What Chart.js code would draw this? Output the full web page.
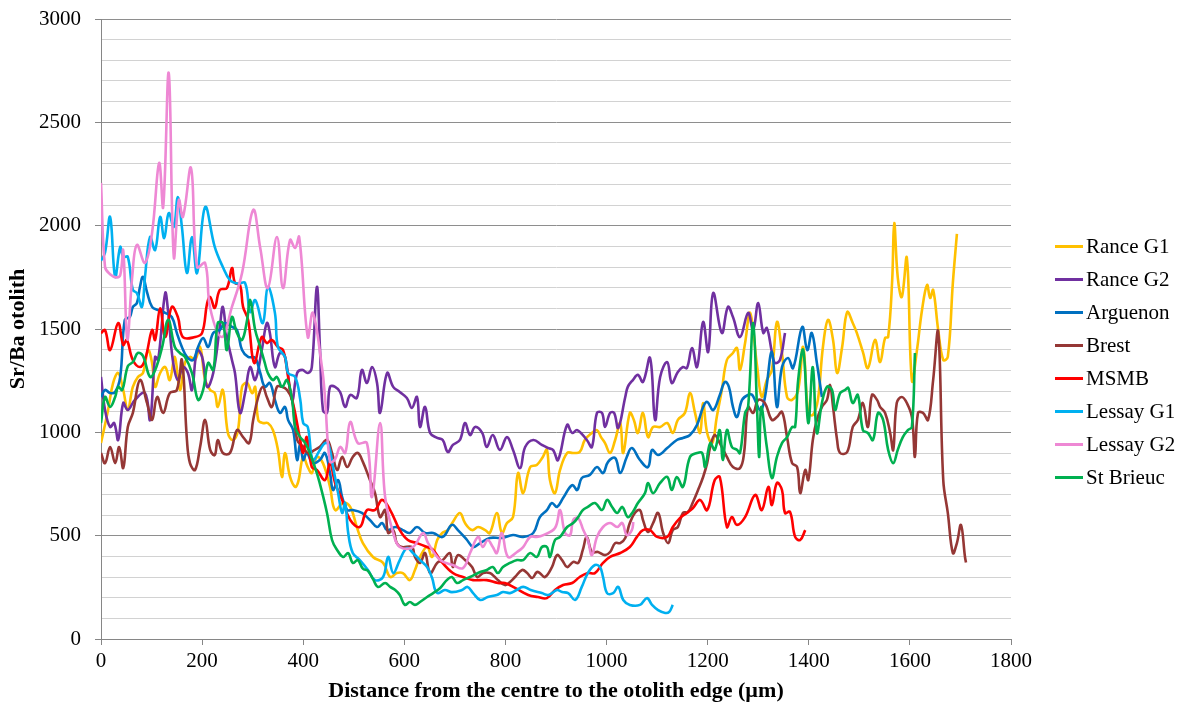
<!DOCTYPE html>
<html>
<head>
<meta charset="utf-8">
<script src="https://cdn.jsdelivr.net/npm/chart.js@4.4.1/dist/chart.umd.min.js"></script>
<style>
  html, body { margin: 0; padding: 0; background: #ffffff; }
  #wrap { position: relative; width: 1187px; height: 708px; }
  #legend { position: absolute; left: 1055px; top: 230px; font-family: "Liberation Serif", "Times New Roman", serif; font-size: 21px; color: #000; }
  .li { height: 33px; line-height: 33px; white-space: nowrap; display: flex; align-items: center; }
  .sw { width: 28px; height: 3px; margin-right: 3px; }
</style>
</head>
<body>
<div id="wrap">
  <canvas id="c" width="1187" height="708"></canvas>
  <div id="legend"></div>
</div>
<script>
// ---- Data (x = distance in µm, y = Sr/Ba) ----
const seriesNames = ["Rance G1", "Rance G2", "Arguenon", "Brest", "MSMB", "Lessay G1", "Lessay G2", "St Brieuc"];
const seriesColors = ["#FFC000", "#7030A0", "#0070C0", "#953735", "#FF0000", "#00B0F0", "#EE88D4", "#00B050"];
const xTickValues = [0, 200, 400, 600, 800, 1000, 1200, 1400, 1600, 1800];
const yMajorStep = 500;

const ranceG1 = [[0,948],[14,1108],[24,1239],[34,1287],[44,1205],[53,1108],[63,1220],[73,1268],[83,1287],[93,1398],[101,1336],[107,1220],[117,1287],[127,1316],[136,1253],[146,1365],[156,1205],[166,1336],[176,1365],[186,1350],[196,1413],[206,1253],[216,1205],[225,1190],[231,1123],[241,1205],[251,997],[261,963],[271,1011],[279,1220],[289,1239],[299,1190],[305,1220],[311,1060],[320,1045],[330,1045],[340,1011],[350,915],[358,784],[364,900],[374,784],[384,736],[390,760],[400,881],[409,832],[417,803],[427,881],[439,851],[453,736],[463,624],[479,658],[493,639],[506,542],[518,464],[538,397],[558,368],[572,300],[585,319],[597,319],[611,285],[621,334],[631,397],[645,445],[655,397],[665,479],[675,513],[686,527],[696,566],[710,610],[720,561],[734,527],[746,542],[760,527],[769,513],[783,610],[793,513],[803,561],[815,590],[825,803],[835,706],[849,832],[862,842],[874,881],[882,915],[888,769],[898,706],[908,818],[922,900],[934,900],[947,905],[957,963],[971,997],[981,1011],[989,977],[997,948],[1007,900],[1017,963],[1027,1045],[1033,900],[1046,1094],[1054,1060],[1062,997],[1072,1094],[1082,977],[1092,1026],[1106,1026],[1120,1045],[1131,997],[1141,1060],[1155,1094],[1165,1190],[1175,1094],[1185,997],[1191,1142],[1199,997],[1209,948],[1218,1074],[1228,1205],[1238,1350],[1250,1384],[1258,1408],[1264,1302],[1274,1432],[1284,1578],[1298,1316],[1307,1171],[1317,1253],[1327,1302],[1337,1534],[1347,1384],[1357,1171],[1367,1157],[1379,1205],[1389,1413],[1399,1094],[1408,1084],[1418,1157],[1428,1413],[1438,1544],[1448,1447],[1456,1287],[1466,1413],[1476,1582],[1487,1529],[1495,1481],[1507,1389],[1517,1311],[1531,1447],[1541,1340],[1551,1457],[1557,1461],[1565,1737],[1569,2013],[1576,1750],[1584,1655],[1594,1844],[1604,1250],[1614,1398],[1624,1592],[1634,1713],[1640,1650],[1646,1689],[1656,1495],[1666,1350],[1675,1365],[1685,1723],[1693,1960]];

const ranceG2 = [[0,1268],[8,1108],[18,1026],[26,1045],[34,963],[44,1142],[53,1108],[67,1157],[87,1190],[97,1060],[107,1365],[113,1350],[127,1674],[133,1578],[142,1350],[152,1253],[162,1316],[172,1287],[180,1205],[190,1398],[200,1365],[210,1220],[222,1287],[235,1510],[241,1607],[249,1461],[259,1350],[265,1287],[275,1094],[285,1190],[295,1316],[305,1253],[318,1398],[328,1529],[334,1481],[344,1316],[354,1384],[364,1365],[378,1157],[388,1287],[398,1302],[409,1287],[417,1316],[427,1703],[433,1413],[439,1108],[447,1094],[453,1220],[463,1220],[473,1195],[483,1123],[493,1181],[506,1166],[516,1302],[526,1239],[536,1316],[546,1239],[552,1094],[566,1287],[578,1220],[591,1195],[605,1166],[615,1118],[625,1171],[631,1026],[641,1123],[651,997],[665,973],[676,963],[686,905],[696,939],[710,963],[720,1045],[730,987],[740,1026],[754,997],[763,929],[775,987],[789,915],[803,977],[815,915],[829,827],[839,929],[855,963],[872,939],[884,924],[894,915],[904,866],[922,1036],[932,997],[942,1011],[961,963],[971,929],[981,1094],[991,1094],[997,1026],[1007,1094],[1015,1094],[1023,1021],[1037,1171],[1042,1220],[1052,1253],[1062,1278],[1072,1244],[1086,1360],[1096,1060],[1106,1268],[1120,1340],[1129,1239],[1141,1292],[1151,1316],[1159,1311],[1169,1408],[1179,1316],[1191,1534],[1201,1389],[1211,1674],[1228,1481],[1240,1607],[1250,1558],[1264,1461],[1280,1578],[1290,1495],[1300,1626],[1310,1481],[1317,1505],[1327,1389],[1333,1336],[1343,1350],[1353,1481]];

const arguenon = [[0,1171],[8,1205],[18,1190],[28,1195],[38,1268],[47,1544],[57,1558],[63,1607],[71,1626],[77,1703],[83,1752],[91,1679],[101,1607],[113,1592],[127,1578],[140,1558],[150,1481],[160,1413],[170,1365],[182,1350],[192,1413],[202,1456],[212,1413],[222,1481],[235,1495],[245,1529],[259,1510],[269,1495],[279,1398],[291,1365],[305,1360],[315,1287],[324,1220],[334,1239],[344,1157],[354,1094],[364,1123],[370,1060],[380,1011],[388,866],[394,948],[400,866],[407,900],[419,851],[433,866],[443,900],[453,803],[459,721],[469,769],[477,687],[487,624],[498,624],[516,610],[532,576],[546,542],[556,561],[566,527],[582,542],[597,527],[611,513],[625,542],[641,513],[657,513],[676,494],[694,552],[706,527],[724,479],[736,445],[750,464],[769,489],[793,489],[815,503],[835,494],[855,513],[868,590],[882,624],[892,658],[902,639],[914,682],[932,745],[942,721],[951,779],[967,794],[981,832],[993,803],[1003,857],[1017,876],[1027,803],[1040,881],[1050,924],[1066,866],[1082,832],[1090,915],[1102,890],[1120,924],[1139,963],[1151,973],[1165,987],[1179,1036],[1191,1123],[1199,1147],[1211,1108],[1224,1181],[1234,1244],[1242,1220],[1250,1123],[1258,1074],[1268,1157],[1280,1181],[1288,1181],[1304,1108],[1313,1166],[1327,1389],[1337,1123],[1347,1316],[1359,1360],[1369,1311],[1387,1510],[1397,1398],[1406,1481],[1416,1336],[1426,1171]];

const brest = [[0,900],[8,851],[18,929],[28,851],[36,929],[44,827],[53,1026],[63,1094],[77,1253],[91,1142],[101,1060],[111,1171],[123,1094],[136,1190],[150,1205],[160,1350],[170,963],[176,851],[186,818],[196,929],[206,1060],[216,915],[225,890],[231,963],[241,900],[255,900],[269,1011],[281,977],[293,948],[301,1060],[311,1171],[320,1220],[328,1171],[338,1123],[348,1220],[358,1220],[368,1205],[378,1157],[388,963],[400,930],[409,900],[423,915],[433,930],[447,963],[457,900],[467,818],[477,881],[487,832],[498,881],[508,900],[518,857],[532,769],[542,706],[552,590],[562,624],[568,513],[578,527],[585,464],[595,445],[615,445],[621,397],[631,368],[641,416],[651,319],[665,368],[676,382],[690,416],[696,348],[706,406],[720,382],[734,348],[744,300],[756,319],[769,319],[779,300],[785,285],[799,261],[809,276],[819,300],[833,334],[843,319],[853,295],[862,324],[868,319],[878,300],[892,348],[902,406],[912,382],[922,348],[934,373],[944,368],[953,431],[961,494],[971,421],[983,421],[997,406],[1007,421],[1017,464],[1027,464],[1037,489],[1046,561],[1056,610],[1066,624],[1072,576],[1082,518],[1092,561],[1102,610],[1112,513],[1122,464],[1131,527],[1141,542],[1151,610],[1161,615],[1171,663],[1181,721],[1191,784],[1199,851],[1205,929],[1214,987],[1224,948],[1238,881],[1250,832],[1264,827],[1272,900],[1280,1123],[1290,1094],[1300,1157],[1313,1142],[1327,1060],[1337,1074],[1347,1099],[1357,977],[1367,851],[1377,832],[1383,706],[1393,818],[1399,769],[1408,963],[1416,1060],[1426,1123],[1436,1157],[1442,1229],[1448,1123],[1456,963],[1462,900],[1476,905],[1487,1026],[1497,1060],[1507,1142],[1517,1026],[1525,1181],[1535,1157],[1541,1123],[1551,1094],[1561,997],[1567,915],[1574,1142],[1584,1171],[1594,1142],[1604,1074],[1610,881],[1616,1094],[1626,1094],[1636,1060],[1646,1253],[1656,1486],[1666,769],[1675,610],[1685,416],[1693,464],[1701,552],[1709,397],[1711,370]];

const msmb = [[0,1480],[8,1495],[18,1398],[34,1529],[44,1423],[51,1447],[63,1350],[77,1316],[87,1350],[101,1495],[107,1447],[117,1600],[127,1461],[140,1607],[152,1558],[162,1461],[186,1461],[200,1481],[210,1626],[216,1655],[225,1602],[235,1689],[249,1698],[259,1795],[265,1723],[275,1713],[281,1607],[291,1544],[303,1336],[318,1461],[328,1432],[338,1447],[350,1413],[360,1398],[368,1302],[374,1205],[384,1094],[394,963],[400,900],[407,977],[417,832],[427,818],[443,769],[453,851],[463,755],[477,673],[493,576],[512,542],[526,624],[542,624],[556,673],[572,624],[591,527],[607,479],[625,464],[645,445],[657,431],[671,382],[696,319],[716,300],[736,285],[763,285],[785,271],[799,271],[819,247],[845,213],[864,203],[882,198],[898,237],[914,261],[932,271],[947,300],[963,319],[977,319],[993,368],[1007,397],[1027,416],[1046,445],[1060,494],[1072,527],[1086,527],[1100,494],[1120,494],[1131,542],[1145,585],[1159,610],[1171,634],[1185,673],[1199,624],[1214,769],[1224,784],[1238,542],[1248,590],[1258,552],[1274,590],[1294,697],[1307,624],[1320,736],[1327,648],[1337,755],[1347,721],[1353,610],[1363,615],[1373,494],[1383,479],[1393,527]];

const lessayG1 = [[0,1830],[8,1870],[18,2042],[28,1752],[38,1897],[44,1849],[53,1849],[63,1689],[71,1674],[81,1607],[87,1752],[97,1945],[107,1882],[117,2042],[125,1940],[134,2061],[144,1994],[152,2139],[160,1994],[170,1771],[180,1945],[190,1771],[206,2090],[225,1897],[241,1800],[255,1737],[271,1720],[285,1723],[295,1582],[305,1640],[320,1529],[330,1703],[344,1578],[350,1413],[364,1365],[370,1287],[384,1268],[394,1160],[400,1045],[409,1026],[419,866],[433,915],[443,948],[450,940],[459,832],[469,706],[477,610],[483,658],[489,513],[498,416],[512,382],[528,334],[542,285],[558,300],[568,397],[578,319],[591,382],[605,440],[617,416],[631,382],[645,348],[655,295],[661,237],[667,222],[680,237],[694,227],[714,237],[725,252],[736,222],[750,189],[765,203],[783,213],[795,227],[809,222],[822,237],[835,252],[850,237],[872,222],[885,213],[902,237],[912,227],[924,222],[938,189],[951,252],[963,319],[977,358],[987,348],[993,300],[1001,222],[1013,222],[1023,252],[1033,189],[1046,165],[1066,165],[1080,198],[1090,165],[1102,140],[1116,126],[1124,131],[1131,165]];

const lessayG2 = [[0,2207],[8,1800],[18,1765],[30,1750],[38,1760],[44,1880],[52,1450],[62,1760],[71,1907],[87,1820],[101,1965],[115,2303],[123,2090],[134,2739],[144,1849],[154,2124],[162,2042],[178,2279],[190,1800],[206,1819],[216,1600],[239,1461],[259,1607],[279,1771],[301,2076],[315,1892],[330,1698],[348,1945],[360,1698],[374,1931],[384,1892],[392,1945],[409,1461],[419,1578],[437,1316],[443,1171],[453,857],[463,870],[473,929],[483,900],[493,1050],[508,948],[526,948],[536,687],[552,1045],[562,687],[578,513],[591,445],[617,445],[637,513],[647,464],[671,382],[696,358],[716,343],[730,416],[746,494],[755,445],[765,479],[775,445],[783,416],[793,513],[805,397],[823,421],[835,445],[849,494],[862,494],[875,503],[898,537],[908,624],[918,513],[928,503],[934,576],[944,585],[954,527],[963,479],[971,406],[981,494],[993,542],[1007,561],[1021,542],[1031,561],[1040,503],[1050,527],[1053,566]];

const stBrieuc = [[0,1045],[8,1171],[18,1123],[28,1171],[34,1220],[42,1205],[53,1320],[63,1340],[73,1384],[83,1370],[97,1268],[107,1300],[121,1413],[133,1544],[146,1413],[156,1384],[166,1365],[180,1287],[192,1157],[202,1205],[212,1336],[222,1302],[231,1529],[241,1529],[249,1398],[259,1558],[269,1481],[279,1447],[289,1544],[295,1640],[305,1495],[315,1413],[324,1336],[330,1287],[340,1253],[348,1268],[358,1220],[368,1253],[378,1157],[384,1026],[394,977],[404,948],[413,900],[423,832],[432,760],[447,610],[457,479],[467,431],[479,397],[489,416],[498,368],[508,382],[518,340],[528,330],[538,290],[548,252],[562,271],[572,252],[582,237],[591,213],[601,165],[611,179],[621,165],[631,179],[645,203],[657,222],[671,247],[684,285],[694,300],[704,271],[716,285],[730,300],[750,324],[763,334],[775,348],[785,319],[795,348],[809,368],[823,382],[835,382],[849,416],[862,397],[872,445],[882,445],[888,397],[898,479],[908,494],[922,542],[934,561],[944,590],[953,624],[963,639],[977,658],[991,624],[1001,673],[1011,639],[1021,610],[1031,639],[1042,590],[1052,615],[1062,658],[1076,706],[1082,755],[1092,706],[1106,755],[1120,784],[1129,721],[1139,784],[1151,736],[1165,881],[1179,900],[1189,900],[1195,832],[1205,948],[1214,915],[1224,1011],[1230,866],[1238,1011],[1248,929],[1258,915],[1264,900],[1274,1094],[1280,1123],[1290,1529],[1298,1094],[1302,881],[1306,1123],[1317,929],[1327,779],[1337,881],[1347,948],[1357,977],[1367,1026],[1373,1026],[1379,1253],[1389,1398],[1399,1045],[1408,1316],[1416,997],[1426,1142],[1436,1220],[1446,1205],[1452,1108],[1462,1190],[1472,1205],[1478,1215],[1487,1142],[1497,1181],[1507,1011],[1517,997],[1527,963],[1537,1094],[1547,1060],[1557,915],[1567,851],[1576,915],[1586,977],[1596,1011],[1604,1026],[1610,1384]];

const seriesData = [ranceG1, ranceG2, arguenon, brest, msmb, lessayG1, lessayG2, stBrieuc];

// ---- Chart ----
const datasets = seriesNames.map((name, i) => ({
  label: name,
  data: seriesData[i].map(p => ({ x: p[0], y: p[1] })),
  borderColor: seriesColors[i],
  backgroundColor: seriesColors[i],
  borderWidth: 2.6,
  pointRadius: 0,
  pointHoverRadius: 0,
  showLine: true,
  tension: 0.4,
  fill: false,
  order: seriesNames.length - 1 - i
}));

const serif = "'Liberation Serif', 'Times New Roman', serif";
const axisGray = '#868686';

const chart = new Chart(document.getElementById('c'), {
  type: 'scatter',
  data: { datasets },
  options: {
    responsive: false,
    animation: false,
    layout: { padding: { left: 0, top: 19, right: 176, bottom: 0 } },
    plugins: {
      legend: { display: false },
      tooltip: { enabled: false }
    },
    scales: {
      x: {
        type: 'linear',
        min: 0, max: 1800,
        afterBuildTicks: (s) => { s.ticks = xTickValues.map(v => ({ value: v })); },
        afterFit: (s) => { s.height = 69; },
        ticks: { color: '#000', font: { family: serif, size: 21 }, padding: 4, maxRotation: 0, autoSkip: false,
                 callback: (v) => String(v) },
        grid: { drawOnChartArea: false, drawTicks: true, tickLength: 6, tickColor: axisGray, lineWidth: 1 },
        border: { color: axisGray, width: 1 },
        title: { display: true, text: 'Distance from the centre to the otolith edge (µm)', color: '#000',
                 font: { family: serif, size: 22, weight: 'bold' }, padding: { top: 0, bottom: 3 } }
      },
      y: {
        type: 'linear',
        min: 0, max: 3000,
        afterFit: (s) => { s.width = 101; s.paddingTop = 0; s.paddingBottom = 0; },
        ticks: {
          stepSize: 100, autoSkip: false, maxTicksLimit: 100,
          color: '#000', font: { family: serif, size: 21 }, padding: 14,
          callback: (v) => (v % yMajorStep === 0 ? String(v) : '')
        },
        grid: {
          color: (c) => (c.tick && c.tick.value % yMajorStep === 0 ? '#8E8E8E' : '#D2D2D2'),
          tickColor: (c) => (c.tick && c.tick.value % yMajorStep === 0 ? axisGray : 'rgba(0,0,0,0)'),
          tickLength: 6, lineWidth: 1
        },
        border: { color: axisGray, width: 1 },
        title: { display: true, text: 'Sr/Ba otolith', color: '#000',
                 font: { family: serif, size: 22, weight: 'bold' }, padding: { top: 5, bottom: 0 } }
      }
    }
  }
});

// ---- HTML legend built from the chart's datasets ----
const legendEl = document.getElementById('legend');
chart.data.datasets.forEach(ds => {
  const row = document.createElement('div');
  row.className = 'li';
  const sw = document.createElement('span');
  sw.className = 'sw';
  sw.style.background = ds.borderColor;
  const tx = document.createElement('span');
  tx.textContent = ds.label;
  row.appendChild(sw);
  row.appendChild(tx);
  legendEl.appendChild(row);
});
</script>
</body>
</html>
